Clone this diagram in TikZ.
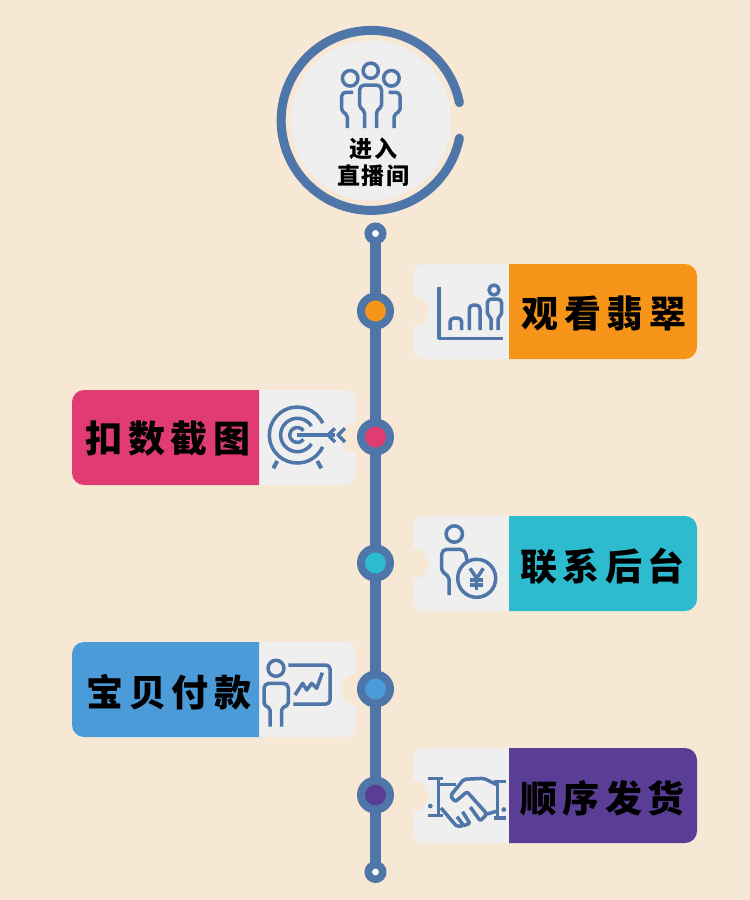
\documentclass[tikz,border=0pt]{standalone}
\usepackage{fontspec}
\newfontfamily\cjkbig[LetterSpace=15]{Noto Sans CJK SC}
\newfontfamily\cjksmall[LetterSpace=7]{Noto Sans CJK SC}
\definecolor{bgc}{HTML}{F7E8D5}
\definecolor{bluec}{HTML}{4F76A9}
\definecolor{cardc}{HTML}{EFEFF0}
\definecolor{orangec}{HTML}{F6951A}
\definecolor{pinkc}{HTML}{E03C72}
\definecolor{tealc}{HTML}{2DBBCF}
\definecolor{skyc}{HTML}{4A9BD8}
\definecolor{purplec}{HTML}{5A3E96}
\tikzset{
  spine/.style={draw=bluec,line width=11pt},
  stop/.style={circle,draw=bluec,line width=8pt,minimum size=29pt,inner sep=0pt,outer sep=0pt},
  endcap/.style={circle,draw=bluec,fill=white,line width=7.5pt,minimum size=14.5pt,inner sep=0pt,outer sep=0pt},
  ico/.style={draw=bluec,line width=3.5pt,line join=round},
  cardtitle/.style={font=\cjkbig\bfseries\fontsize{37}{37}\selectfont,text=black,inner sep=0pt,anchor=center},
  smalltitle/.style={font=\cjksmall\bfseries\fontsize{23}{27.5}\selectfont,text=black,inner sep=0pt,align=center},
}
\begin{document}
\begin{tikzpicture}[x=1pt,y=-1pt]
\fill[bgc] (0,0) rectangle (750,900);
\useasboundingbox (0,0) rectangle (750,900);
% hub
\fill[cardc] (371,120.5) circle (80);
\draw[bluec,line width=9pt,line cap=round] (459.4,102.6) arc[start angle=11.4,end angle=348.6,radius=90pt];
\node[smalltitle] (hub) at (373.5,162) {进入\\直播间};
% hub icon
\draw[ico] (370.7,70.7) circle (7.6);
\draw[ico] (350.2,78.3) circle (7.8);
\draw[ico] (391.4,78.3) circle (7.8);
\draw[ico,rounded corners=2] (364.5,128) -- (364.5,111) -- (359.5,107) [rounded corners=5] -- (359.5,85) -- (381.5,85) [rounded corners=2] -- (381.5,107) -- (376.5,111) -- (376.5,128);
\draw[ico,rounded corners=4] (353,92.3) -- (341.7,92.3) [rounded corners=2] -- (341.7,111) -- (347.3,115) -- (347.3,128);
\draw[ico,rounded corners=4] (388.5,92.3) -- (400,92.3) [rounded corners=2] -- (400,111) -- (394,115) -- (394,128);
% cards
\foreach \yt/\c in {264/orangec,516/tealc,748/purplec}{
  \fill[cardc,rounded corners=12pt] (413,\yt) rectangle ++(284,95);
  \fill[\c] (509,\yt) [rounded corners=12pt] -- (697,\yt) -- (697,\yt+95) [sharp corners] -- (509,\yt+95) -- cycle;
  \fill[bgc] (413,\yt+47.5) circle (15.5);
}
\foreach \yt/\c in {390/pinkc,642/skyc}{
  \fill[cardc,rounded corners=12pt] (72,\yt) rectangle ++(284,95);
  \fill[\c] (259,\yt) [rounded corners=12pt] -- (72,\yt) -- (72,\yt+95) [sharp corners] -- (259,\yt+95) -- cycle;
  \fill[bgc] (356,\yt+47.5) circle (15.5);
}
% titles
\node[cardtitle] (t1) at (604,313) {观看翡翠};
\node[cardtitle] (t2) at (168,439) {扣数截图};
\node[cardtitle] (t3) at (602.5,566) {联系后台};
\node[cardtitle] (t4) at (169,692) {宝贝付款};
\node[cardtitle] (t5) at (602.5,798) {顺序发货};
% timeline
\node[endcap] (top) at (375.5,233.5) {};
\node[stop,fill=orangec] (m1) at (375.5,311) {};
\node[stop,fill=pinkc] (m2) at (375.5,437) {};
\node[stop,fill=tealc] (m3) at (375.5,563) {};
\node[stop,fill=skyc] (m4) at (375.5,689) {};
\node[stop,fill=purplec] (m5) at (375.5,795) {};
\node[endcap] (bot) at (375.5,872) {};
\draw[spine] (top) -- (m1);
\draw[spine] (m1) -- (m2);
\draw[spine] (m2) -- (m3);
\draw[spine] (m3) -- (m4);
\draw[spine] (m4) -- (m5);
\draw[spine] (m5) -- (bot);
% chart icon
\draw[ico] (439,286.7) -- (439,338.3) -- (502.7,338.3);
\draw[ico,rounded corners=4] (450,330) -- (450,318) -- (461.7,318) -- (461.7,330);
\draw[ico,rounded corners=4] (469.3,330) -- (469.3,305) -- (480,305) -- (480,330);
\draw[ico] (494,290) circle (5);
\draw[ico,rounded corners=2] (491,330) -- (491,317) -- (487.3,315) [rounded corners=4] -- (487.3,299) -- (501.7,299) [rounded corners=2] -- (501.7,315) -- (498,317) -- (498,330);
% target icon
\draw[ico] (322.7,423.2) arc[start angle=25,end angle=335,radius=28pt];
\draw[ico] (311.5,426.15) arc[start angle=32,end angle=328,radius=16.7pt];
\draw[ico] (303.45,430.7) arc[start angle=35,end angle=325,radius=7.5pt];
\draw[ico] (297.3,435) -- (335,435);
\draw[ico] (345,428.3) -- (338,435) -- (345,442);
\draw[ico] (335,428.3) -- (328,435) -- (335,442);
\draw[ico,line width=4pt] (277.3,461) -- (273.3,468.3);
\draw[ico,line width=4pt] (317.3,461) -- (321.3,468.3);
% person + yen icon
\draw[ico] (454.3,534) circle (8.2);
\draw[ico,rounded corners=2] (449,595) -- (449,577) -- (441.7,571) [rounded corners=5] -- (441.7,549.3) -- (465,549.3) -- (467,561);
\draw[ico] (476.7,578.3) circle (19);
\draw[ico] (470,568.3) -- (476.7,578.3) -- (483.3,568.3);
\draw[ico] (476.7,578.3) -- (476.7,590);
\draw[ico] (470,580) -- (483.3,580);
\draw[ico] (470,585) -- (483.3,585);
% presenter icon
\draw[ico] (276,668.3) circle (8);
\draw[ico,rounded corners=2] (270,726.7) -- (270,708) -- (264,705) [rounded corners=5] -- (264,683.3) -- (288.3,683.3) [rounded corners=2] -- (288.3,705) -- (281.7,708) -- (281.7,726.7);
\draw[ico,rounded corners=4] (288.3,665) -- (330,665) -- (330,704) -- (293.3,704);
\draw[ico] (295,695) -- (302.7,683.3) -- (306.7,690) -- (311.7,683.3) -- (316.7,688.3) -- (322.3,672.7);
% handshake icon
\draw[ico] (427.7,778.3) -- (442.7,778.3);
\draw[ico] (438.7,778.3) -- (438.7,815.7);
\draw[ico] (427.7,815.7) -- (442.7,815.7);
\fill[bluec] (430.3,806) circle (2.4);
\draw[ico] (506,781.5) -- (493.7,781.5);
\draw[ico] (497.5,781.5) -- (497.5,818);
\draw[ico] (506,818) -- (493.7,818);
\fill[bluec] (503.8,809.5) circle (2.4);
\draw[ico] (438.7,784.5) -- (456,784.5);
\draw[ico,rounded corners=2] (497.5,785) -- (483.7,778.3) -- (463.7,779.3) -- (450.3,796) -- (455.3,801.7) -- (467,791.7) -- (487,814) -- (480.3,821) -- (470.3,807);
\draw[ico] (487,814) -- (497.5,811);
\draw[ico,rounded corners=2] (441,808) -- (457,826.7) -- (463.7,825.5) -- (457,816.7);
\draw[ico,rounded corners=2] (463.7,825.5) -- (470,823.5) -- (462.5,811.7);
\end{tikzpicture}
\end{document}
